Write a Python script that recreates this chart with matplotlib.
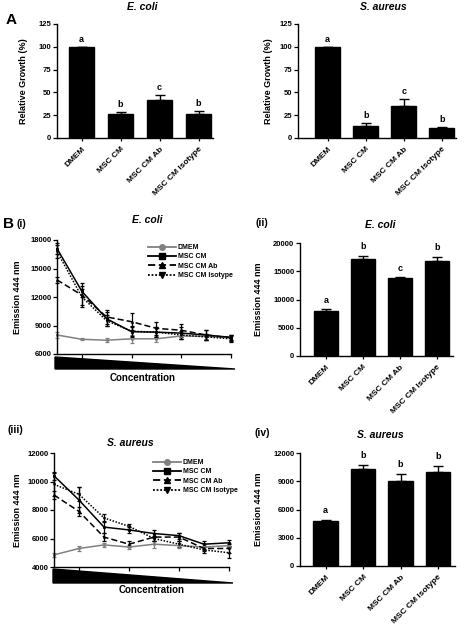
import matplotlib
matplotlib.use("Agg")
import matplotlib.pyplot as plt
from matplotlib.lines import Line2D
from matplotlib.patches import Polygon
import numpy as np

plt.rcParams['font.family'] = ['Liberation Sans', 'DejaVu Sans']
plt.rcParams['font.weight'] = 'bold'

# ---------------- data ----------------
groups = ["DMEM", "MSC CM", "MSC CM Ab", "MSC CM Isotype"]

a_ecoli = [100, 26, 42, 26]
a_ecoli_err = [0, 2.5, 5, 3.5]
a_ecoli_sig = ["a", "b", "c", "b"]

a_saureus = [100, 13, 35, 11]
a_saureus_err = [0, 3.5, 8, 1.5]
a_saureus_sig = ["a", "b", "c", "b"]

b_ecoli = [8000, 17100, 13800, 16800]
b_ecoli_err = [300, 600, 150, 800]
b_ecoli_sig = ["a", "b", "c", "b"]

b_saureus = [4800, 10350, 9000, 10000]
b_saureus_err = [100, 400, 800, 600]
b_saureus_sig = ["a", "b", "b", "b"]

conc_idx = [0, 1, 2, 3, 4, 5, 6, 7]

ec_dmem = [8000, 7550, 7450, 7600, 7600, 7900, 7850, 7750]
ec_dmem_err = [300, 100, 200, 400, 300, 300, 250, 300]
ec_msc = [17100, 12600, 9700, 8350, 8300, 8200, 8000, 7750]
ec_msc_err = [600, 600, 700, 500, 500, 600, 500, 300]
ec_ab = [13800, 12200, 9900, 9400, 8700, 8500, 8000, 7700]
ec_ab_err = [300, 1300, 700, 900, 700, 700, 500, 300]
ec_iso = [16800, 12000, 9500, 8400, 8300, 8000, 7800, 7600]
ec_iso_err = [700, 800, 600, 600, 500, 400, 300, 300]

sa_dmem = [4850, 5300, 5550, 5400, 5600, 5500, 5400, 5500]
sa_dmem_err = [150, 150, 150, 150, 250, 200, 200, 200]
sa_msc = [10400, 8700, 6800, 6600, 6350, 6200, 5600, 5700]
sa_msc_err = [300, 900, 400, 200, 250, 200, 200, 200]
sa_ab = [9050, 7900, 6100, 5600, 6100, 6100, 5300, 5300]
sa_ab_err = [300, 300, 300, 200, 300, 300, 200, 300]
sa_iso = [9800, 9100, 7450, 6850, 6000, 5600, 5200, 5000]
sa_iso_err = [800, 500, 300, 200, 200, 200, 200, 400]

W, H = 472, 625
fig = plt.figure(figsize=(W / 100, H / 100), dpi=100)


def axes_px(left, right, top, bottom):
    return fig.add_axes([left / W, 1 - bottom / H, (right - left) / W, (bottom - top) / H])


def style(ax):
    for s in ['top', 'right']:
        ax.spines[s].set_visible(False)
    for s in ['left', 'bottom']:
        ax.spines[s].set_linewidth(1.0)
    ax.tick_params(direction='out', length=3, width=0.9, labelsize=5.5, pad=1)
    for lab in ax.get_xticklabels() + ax.get_yticklabels():
        lab.set_fontweight('bold')


def ftext(x, y, s, size, ha='center', style_='normal'):
    fig.text(x / W, 1 - y / H, s, fontsize=size, ha=ha, va='center',
             fontweight='bold', fontstyle=style_)


def bar_panel(box, vals, errs, sigs, ylim, yticks, ylabel, xlim, lab_x, sig_gap):
    ax = axes_px(*box)
    x = np.arange(len(groups))
    ax.bar(x, vals, width=0.66, color='black', edgecolor='black', zorder=2)
    ax.errorbar(x, vals, yerr=[np.zeros(len(errs)), errs], fmt='none',
                ecolor='black', elinewidth=1, capsize=3.5, capthick=1, zorder=3)
    for xi, v, e, s in zip(x, vals, errs, sigs):
        ax.text(xi, v + e + sig_gap, s, ha='center', va='bottom', fontsize=6.5,
                fontweight='bold')
    ax.set_ylim(*ylim)
    ax.set_yticks(yticks)
    ax.set_xlim(*xlim)
    ax.set_xticks(x)
    ax.set_xticklabels(groups, rotation=45, ha='right', rotation_mode='anchor')
    ax.set_ylabel(ylabel, fontsize=6.5, fontweight='bold')
    l, r = box[0], box[1]
    ax.yaxis.set_label_coords((lab_x - l) / (r - l), 0.5)
    style(ax)
    ax.tick_params(axis='x', length=2.5, labelsize=6, pad=3)
    return ax


def line_panel(box, series, ylim, yticks, lab_x, legend_xy, wedge):
    ax = axes_px(*box)
    specs = [
        dict(color='#808080', ls='-', marker='o', label='DMEM'),
        dict(color='black', ls='-', marker='s', label='MSC CM'),
        dict(color='black', ls=(0, (4, 2)), marker='^', label='MSC CM Ab'),
        dict(color='black', ls=(0, (1, 1)), marker='v', label='MSC CM Isotype'),
    ]
    for (vals, errs), sp in zip(series, specs):
        ax.errorbar(conc_idx, vals, yerr=errs, color=sp['color'], ls=sp['ls'],
                    marker=sp['marker'], markersize=1.2, linewidth=1.1,
                    elinewidth=0.9, capsize=1.5, capthick=0.9, clip_on=False)
    ax.set_xlim(0, 7)
    ax.set_ylim(*ylim)
    ax.set_yticks(yticks)
    ax.set_xticks([1, 3, 5, 7])
    ax.set_xticklabels([])
    ax.set_ylabel("Emission 444 nm", fontsize=6.5, fontweight='bold')
    l, r = box[0], box[1]
    ax.yaxis.set_label_coords((lab_x - l) / (r - l), 0.5)
    style(ax)
    handles = [Line2D([], [], color=sp['color'], ls=sp['ls'], marker=sp['marker'],
                      markersize=4, linewidth=1.3) for sp in specs]
    leg = ax.legend(handles, [sp['label'] for sp in specs], loc='upper left',
                    bbox_to_anchor=(legend_xy[0] / W, 1 - legend_xy[1] / H),
                    bbox_transform=fig.transFigure, frameon=False, fontsize=5,
                    handlelength=4.0, handletextpad=0.3, labelspacing=0.35,
                    borderpad=0, borderaxespad=0)
    for t in leg.get_texts():
        t.set_fontweight('bold')
    # concentration wedge
    x0, x1, ytop, ybot = wedge
    poly = Polygon([[x0 / W, 1 - ytop / H], [x1 / W, 1 - ybot / H], [x0 / W, 1 - ybot / H]],
                   closed=True, facecolor='black', edgecolor='black',
                   transform=fig.transFigure)
    fig.patches.append(poly)
    return ax


# ---------------- Panel A ----------------
bar_panel((57, 213, 24, 138), a_ecoli, a_ecoli_err, a_ecoli_sig, (0, 125),
          [0, 25, 50, 75, 100, 125], "Relative Growth (%)", (-0.63, 3.37), 28, 3)
bar_panel((298, 456, 24, 138), a_saureus, a_saureus_err, a_saureus_sig, (0, 125),
          [0, 25, 50, 75, 100, 125], "Relative Growth (%)", (-0.78, 3.37), 273, 3)
ftext(142, 7, "E. coli", 7.5, style_='italic')
ftext(383, 7, "S. aureus", 7.5, style_='italic')
ftext(11, 20, "A", 11)

# ---------------- Panel B ----------------
line_panel((57, 231, 240, 354),
           [(ec_dmem, ec_dmem_err), (ec_msc, ec_msc_err), (ec_ab, ec_ab_err), (ec_iso, ec_iso_err)],
           (6000, 18000), [6000, 9000, 12000, 15000, 18000], 22, (148, 244),
           (55, 235, 357, 369))
ftext(143, 378, "Concentration", 7)
ftext(147, 220, "E. coli", 7.5, style_='italic')
ftext(8, 224, "B", 11)
ftext(21, 224, "(i)", 7.5)

bar_panel((300, 453, 243, 356), b_ecoli, b_ecoli_err, b_ecoli_sig, (0, 20000),
          [0, 5000, 10000, 15000, 20000], "Emission 444 nm", (-0.7, 3.43), 263, 800)
ftext(380, 225, "E. coli", 7.5, style_='italic')
ftext(262, 223, "(ii)", 7.5)

line_panel((54, 229, 453, 567),
           [(sa_dmem, sa_dmem_err), (sa_msc, sa_msc_err), (sa_ab, sa_ab_err), (sa_iso, sa_iso_err)],
           (4000, 12000), [4000, 6000, 8000, 10000, 12000], 22, (153, 459),
           (53, 233, 569, 583))
ftext(152, 590, "Concentration", 7)
ftext(130, 443, "S. aureus", 7.5, style_='italic')
ftext(15, 430, "(iii)", 7.5)

bar_panel((300, 455, 453, 566), b_saureus, b_saureus_err, b_saureus_sig, (0, 12000),
          [0, 3000, 6000, 9000, 12000], "Emission 444 nm", (-0.68, 3.45), 263, 500)
ftext(380, 435, "S. aureus", 7.5, style_='italic')
ftext(262, 433, "(iv)", 7.5)

fig.savefig("out.png", dpi=100)
